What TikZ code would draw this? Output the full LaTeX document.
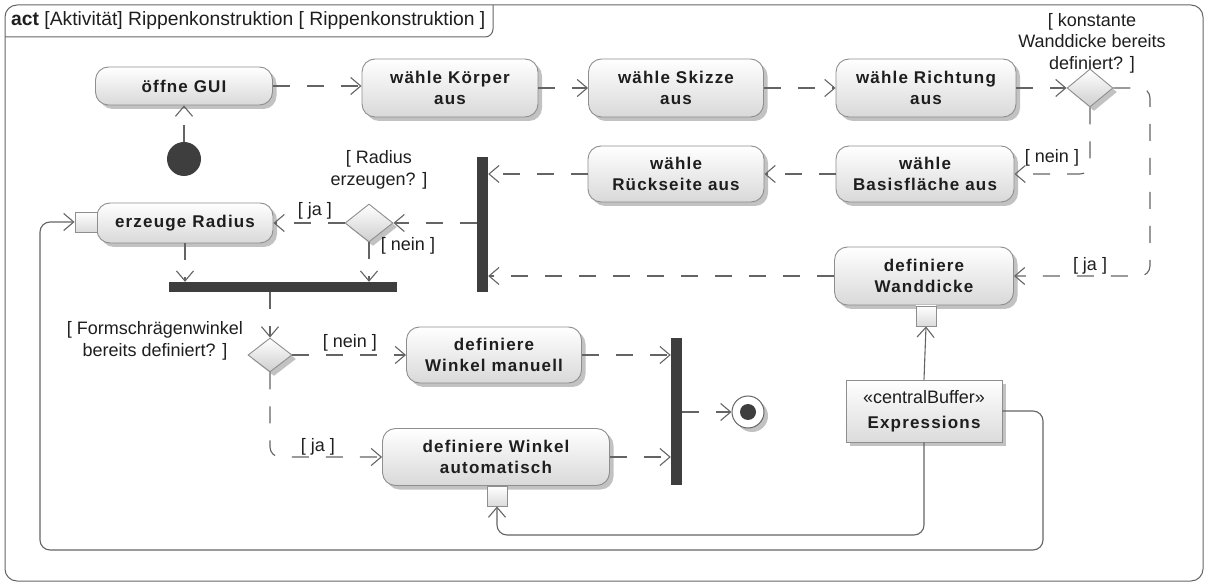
\documentclass[tikz,border=0pt]{standalone}
\usepackage{fontspec}
\setmainfont{Liberation Sans}
\newfontfamily\actionfont[LetterSpace=7]{Liberation Sans}
\usetikzlibrary{arrows.meta,shapes.geometric,shadows}

\definecolor{texte}{HTML}{1E1E1E}
\definecolor{bord}{HTML}{8E8E8E}
\definecolor{ligne}{HTML}{646464}
\definecolor{barre}{HTML}{3E3E3E}
\definecolor{ombre}{HTML}{C2C2C2}

\begin{document}
\begin{tikzpicture}[x=1pt,y=-1pt,
  every node/.style={text=texte},
  ombrage/.style={drop shadow={shadow xshift=4pt,shadow yshift=-4pt,fill=ombre,opacity=1}},
  action/.style={draw=bord,line width=0.9pt,rounded corners=13pt,top color=white,bottom color=gray!30,ombrage,
    align=center,inner sep=0pt,font=\actionfont\bfseries\fontsize{17}{21}\selectfont},
  decision/.style={diamond,draw=bord,line width=0.9pt,top color=white,bottom color=gray!38,ombrage,
    minimum width=46pt,minimum height=38pt,inner sep=0pt},
  epingle/.style={draw=bord,line width=0.9pt,top color=white,bottom color=gray!28,minimum size=20pt,inner sep=0pt},
  barre/.style={fill=barre,inner sep=0pt},
  garde/.style={align=center,inner sep=0pt,font=\fontsize{18}{21.5}\selectfont},
  flux/.style={draw=ligne,line width=1.1pt,dash pattern=on 17pt off 17pt,-{Straight Barb[length=10pt,width=17pt]}},
  objet/.style={draw=ligne,line width=1.1pt,-{Straight Barb[length=10pt,width=17pt]}}]

\useasboundingbox (0,0) rectangle (1208,585);

%%%%%%%%%%%%%%%%%%%%%%%%
% cadre et en-tete
%%%%%%%%%%%%%%%%%%%%%%%%
\draw[draw=gray!80!black,line width=1pt,rounded corners=12pt] (5,5) rectangle (1203,581);
\draw[draw=gray!80!black,line width=1pt,rounded corners=8pt] (5,37) -- (493,37) -- (493,5);
\node[anchor=west,inner sep=0pt,font=\fontsize{19.3}{23}\selectfont] (titel) at (11,21)
  {\textbf{act} [Aktivität] Rippenkonstruktion [ Rippenkonstruktion ]};

%%%%%%%%%%%%%%%%%%%%%%%%
% actions
%%%%%%%%%%%%%%%%%%%%%%%%
\node[action,minimum width=177pt,minimum height=38pt] (gui) at (184,86) {öffne GUI};
\node[action,minimum width=176pt,minimum height=58pt] (koerper) at (450,88) {wähle Körper\\aus};
\node[action,minimum width=175pt,minimum height=58pt] (skizze) at (676,88) {wähle Skizze\\aus};
\node[action,minimum width=180pt,minimum height=58pt] (richtung) at (926,88) {wähle Richtung\\aus};
\node[action,minimum width=178pt,minimum height=56pt] (basis) at (925,174) {wähle\\Basisfläche aus};
\node[action,minimum width=176pt,minimum height=56pt] (rueck) at (676,174) {wähle\\Rückseite aus};
\node[action,minimum width=179pt,minimum height=58pt] (wand) at (924,276) {definiere\\Wanddicke};
\node[action,minimum width=176pt,minimum height=40pt] (radius) at (185,223) {erzeuge Radius};
\node[action,minimum width=175pt,minimum height=56pt] (manuell) at (494,355) {definiere\\Winkel manuell};
\node[action,minimum width=227pt,minimum height=57pt] (auto) at (496,457) {definiere Winkel\\automatisch};

% epingles d'entree
\node[epingle] (pinW) at (926,316) {};
\node[epingle,minimum width=22pt] (pinR) at (86,222) {};
\node[epingle] (pinA) at (497,496) {};

% tampon central
\node[draw=bord,line width=0.9pt,top color=white,bottom color=gray!28,ombrage,
  minimum width=156pt,minimum height=62pt,align=center,inner sep=0pt,
  font=\fontsize{18}{25}\selectfont] (puffer) at (924,411)
  {«centralBuffer»\\{\actionfont\bfseries\fontsize{17}{25}\selectfont Expressions}};

%%%%%%%%%%%%%%%%%%%%%%%%
% noeuds de controle
%%%%%%%%%%%%%%%%%%%%%%%%
\node[circle,fill=barre,minimum size=34pt,inner sep=0pt] (start) at (184,159) {};
\node[circle,draw=ligne,line width=1pt,fill=white,ombrage,minimum size=32pt,inner sep=0pt] (fin) at (748,412) {};
\node[circle,fill=barre,minimum size=16pt,inner sep=0pt] (finK) at (fin) {};

\node[decision] (wahl1) at (1090,88) {};
\node[decision,minimum width=48pt] (wahl2) at (369,223) {};
\node[decision,minimum width=44pt,minimum height=34pt] (wahl3) at (270,355) {};

\node[barre,minimum width=11pt,minimum height=135pt] (sync1) at (482.5,224.5) {};
\node[barre,minimum width=228pt,minimum height=10pt] (sync2) at (283,287) {};
\node[barre,minimum width=11pt,minimum height=147pt] (sync3) at (676.5,411.5) {};

% gardes
\node[garde] (garde1) at (1092,43) {[ konstante\\Wanddicke bereits\\definiert? ]};
\node[garde] (garde2) at (379,170) {[ Radius\\erzeugen? ]};
\node[garde] (garde3) at (155,341) {[ Formschrägenwinkel\\bereits definiert? ]};
\node[garde] (ja1) at (1090,266) {[ ja ]};
\node[garde] (nein1) at (1052,158) {[ nein ]};
\node[garde] (ja2) at (315,211) {[ ja ]};
\node[garde] (nein2) at (408,246) {[ nein ]};
\node[garde] (nein3) at (350,343) {[ nein ]};
\node[garde] (ja3) at (318,447) {[ ja ]};

%%%%%%%%%%%%%%%%%%%%%%%%
% flux de controle
%%%%%%%%%%%%%%%%%%%%%%%%
\draw[flux] (start) -- (gui.south);
\foreach \a/\b in {gui/koerper,koerper/skizze,skizze/richtung,richtung/wahl1}
  {\draw[flux] (\a.east) -- (\a.east -| \b.west);}

\coordinate (k1) at (1150,88);
\draw[flux,rounded corners=10pt] (wahl1.east) -- (k1) |- (wand.east);
\draw[flux,rounded corners=10pt] (wahl1.south) |- (basis.east);
\draw[flux] (basis.west) -- (basis.west -| rueck.east);
\draw[flux] (rueck.west) -- (rueck.west -| sync1.east);
\draw[flux] (wand.west) -- (wand.west -| sync1.east);

\draw[flux] (wahl2.east -| sync1.west) -- (wahl2.east);
\draw[flux] (wahl2.west) -- (radius.east);
\draw[flux] (wahl2.south) -- (wahl2.south |- sync2.north);
\draw[flux] (radius.south) -- (radius.south |- sync2.north);

\draw[flux] (wahl3.north |- sync2.south) -- (wahl3.north);
\draw[flux] (wahl3.east) -- (wahl3.east -| manuell.west);
\draw[flux,rounded corners=10pt] (wahl3.south) |- (auto.west);
\draw[flux] (manuell.east) -- (manuell.east -| sync3.west);
\draw[flux] (auto.east) -- (auto.east -| sync3.west);
\draw[flux] (sync3.east |- fin.west) -- (fin.west);

%%%%%%%%%%%%%%%%%%%%%%%%
% flux d'objets
%%%%%%%%%%%%%%%%%%%%%%%%
\draw[objet] (puffer.north) -- (pinW.south);
\coordinate (k2) at (1043,550);
\coordinate (k3) at (40,550);
\draw[objet,rounded corners=10pt] (puffer.east) -| (k2) -- (k3) |- (pinR.west);
\coordinate (k4) at (497,535);
\draw[objet,rounded corners=10pt] (puffer.south) |- (k4) -- (pinA.south);

\end{tikzpicture}
\end{document}
